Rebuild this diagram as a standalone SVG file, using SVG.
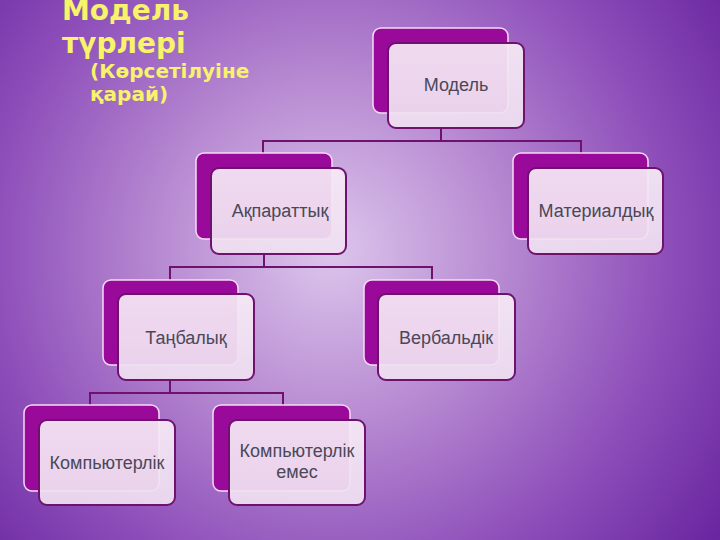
<svg xmlns="http://www.w3.org/2000/svg" width="720" height="540" viewBox="0 0 720 540">
<defs>
<radialGradient id="bg" cx="330" cy="250" r="480" gradientUnits="userSpaceOnUse">
<stop offset="0" stop-color="#dcc6ec"/>
<stop offset="0.35" stop-color="#b88bd2"/>
<stop offset="0.7" stop-color="#8e4fba"/>
<stop offset="1" stop-color="#6a26a0"/>
</radialGradient>
<linearGradient id="front" x1="0" y1="0" x2="0" y2="1">
<stop offset="0" stop-color="#f6eaf6" stop-opacity="0.93"/>
<stop offset="1" stop-color="#efdff1" stop-opacity="0.93"/>
</linearGradient>
<style>
.back{fill:#9a0a9a;stroke:#f6dcf6;stroke-width:1.5}
.front{fill:url(#front);stroke:#6e126e;stroke-width:2}
.conn{fill:none;stroke:#6e126e;stroke-width:2}
.lbl{font-family:"Liberation Sans",Arial,sans-serif;font-size:18px;fill:#4a4858;text-anchor:middle}
.title{font-family:"DejaVu Sans",sans-serif;font-weight:bold;fill:#f7f36a}
</style>
</defs>
<rect width="720" height="540" fill="url(#bg)"/>
<g id="title">
<text class="title" x="62" y="20" font-size="28">Модель</text>
<text class="title" x="62" y="53" font-size="28">түрлері</text>
<text class="title" x="90" y="78" font-size="20">(Көрсетілуіне</text>
<text class="title" x="90" y="101" font-size="20">қарай)</text>
</g>
<g id="connectors">
<path class="conn" d="M441 128 V141 M263 153 V141 H581 V153"/>
<path class="conn" d="M264 255 V267 M170 280 V267 H432 V280"/>
<path class="conn" d="M170 380 V393 M90 405 V393 H283 V405"/>
</g>
<g id="n-model">
<rect class="back" x="373" y="28" width="135" height="85" rx="8"/>
<rect class="front" x="388" y="43" width="136" height="85" rx="8"/>
<text class="lbl" x="456" y="91">Модель</text>
</g>
<g id="n-akparattyk">
<rect class="back" x="196" y="153" width="136" height="86" rx="8"/>
<rect class="front" x="211" y="168" width="135" height="86" rx="8"/>
<text class="lbl" x="280" y="217">Ақпараттық</text>
</g>
<g id="n-materialdyk">
<rect class="back" x="513" y="153" width="135" height="86" rx="8"/>
<rect class="front" x="528" y="168" width="135" height="86" rx="8"/>
<text class="lbl" x="596" y="217">Материалдық</text>
</g>
<g id="n-tanbalyk">
<rect class="back" x="103" y="280" width="135" height="85" rx="8"/>
<rect class="front" x="118" y="294" width="136" height="86" rx="8"/>
<text class="lbl" x="186" y="344">Таңбалық</text>
</g>
<g id="n-verbaldik">
<rect class="back" x="364" y="280" width="135" height="85" rx="8"/>
<rect class="front" x="378" y="294" width="137" height="86" rx="8"/>
<text class="lbl" x="446" y="344">Вербальдік</text>
</g>
<g id="n-kompyuterlik">
<rect class="back" x="24" y="405" width="135" height="86" rx="8"/>
<rect class="front" x="39" y="420" width="136" height="85" rx="8"/>
<text class="lbl" x="107" y="469">Компьютерлік</text>
</g>
<g id="n-kompyuterlik-emes">
<rect class="back" x="213" y="405" width="137" height="86" rx="8"/>
<rect class="front" x="229" y="420" width="136" height="85" rx="8"/>
<text class="lbl" x="297" y="457">Компьютерлік</text>
<text class="lbl" x="297" y="478">емес</text>
</g>
</svg>
